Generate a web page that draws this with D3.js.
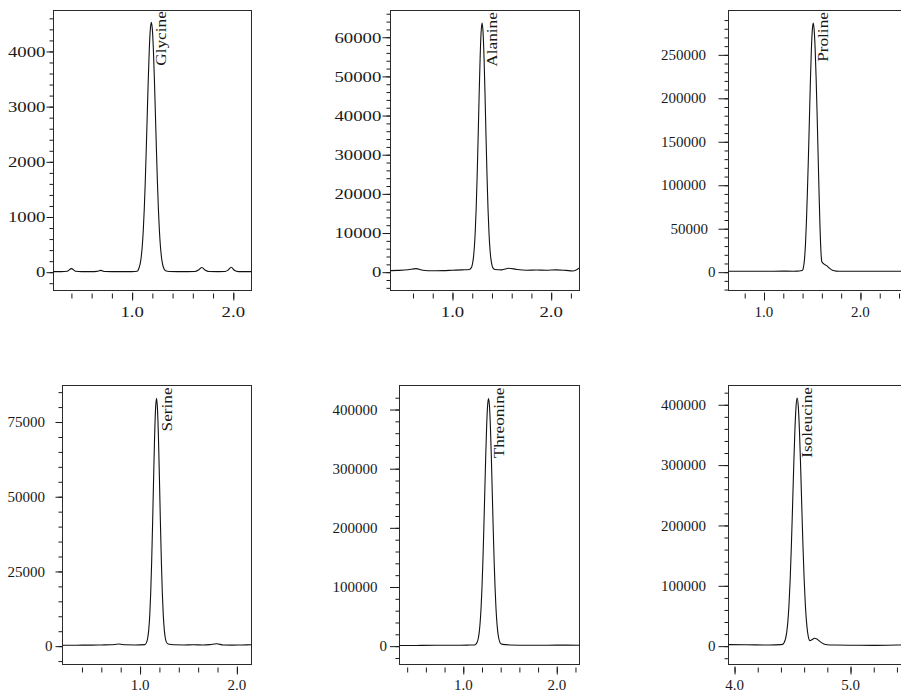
<!DOCTYPE html>
<html><head><meta charset="utf-8">
<script src="https://cdn.jsdelivr.net/npm/d3@7/dist/d3.min.js"></script>
<style>
html,body{margin:0;padding:0;background:#fff;}
svg{display:block;}
</style></head>
<body>
<svg id="chart" width="901" height="694"></svg>
<script>
// ---------- DATA ----------
const compounds = ["Glycine", "Alanine", "Proline", "Serine", "Threonine", "Isoleucine"];

const glycineX = [0.22,0.30,0.36,0.40,0.44,0.50,0.60,0.65,0.69,0.73,0.80,0.90,1.00,1.05,1.07,1.08,1.09,1.10,1.11,1.12,1.13,1.14,1.15,1.16,1.17,1.18,1.19,1.20,1.21,1.22,1.23,1.24,1.25,1.26,1.27,1.28,1.29,1.30,1.31,1.33,1.37,1.45,1.55,1.62,1.66,1.69,1.72,1.76,1.85,1.92,1.95,1.98,2.01,2.05,2.12,2.18];
const glycineY = [10,10,18,65,18,10,10,14,32,12,10,10,10,18,85,155,275,465,745,1135,1640,2235,2880,3510,4045,4400,4530,4400,4045,3510,2880,2235,1640,1135,745,465,275,155,85,25,12,10,10,12,45,85,40,12,10,12,40,90,35,10,10,10];

const alanineX = [0.372,0.45,0.55,0.63,0.70,0.80,0.90,1.00,1.10,1.17,1.19,1.20,1.21,1.22,1.23,1.24,1.25,1.26,1.27,1.28,1.29,1.30,1.31,1.32,1.33,1.34,1.35,1.36,1.37,1.38,1.39,1.40,1.41,1.43,1.50,1.57,1.65,1.75,1.85,1.95,2.05,2.15,2.22,2.287];
const alanineY = [400,450,600,900,500,350,400,500,600,700,1100,1830,3270,5840,10030,16210,24540,34510,45110,54580,61200,63600,61200,54580,45110,34510,24540,16210,10030,5840,3270,1830,1100,700,600,1000,700,500,550,500,600,450,300,1100];

const prolineX = [0.632,0.80,1.00,1.20,1.30,1.35,1.38,1.40,1.41,1.42,1.43,1.44,1.45,1.46,1.47,1.48,1.49,1.50,1.51,1.52,1.53,1.54,1.55,1.56,1.57,1.58,1.59,1.60,1.62,1.65,1.68,1.71,1.75,1.80,1.90,2.00,2.20,2.40,2.602];
const prolineY = [1000,1000,1000,1200,1100,1200,1600,2200,6000,15000,32000,58000,92000,130000,172000,215000,252000,277000,286500,279000,258000,225000,185000,140000,95000,55000,25000,12000,9500,7500,4500,2200,1200,1000,1000,1000,1100,1000,1000];

const serineX = [0.199,0.30,0.40,0.50,0.60,0.70,0.78,0.85,0.95,1.05,1.07,1.08,1.09,1.10,1.11,1.12,1.13,1.14,1.15,1.16,1.17,1.18,1.19,1.20,1.21,1.22,1.23,1.24,1.25,1.26,1.27,1.29,1.35,1.45,1.55,1.65,1.72,1.79,1.86,1.95,2.05,2.151];
const serineY = [300,300,350,350,400,450,700,450,400,500,1500,2900,5600,10300,17800,28400,41650,56300,69800,79400,82900,79400,69800,56300,41650,28400,17800,10300,5600,2900,1500,700,450,400,450,400,500,800,400,350,400,450];

const threonineX = [0.318,0.50,0.70,0.90,1.05,1.10,1.13,1.14,1.15,1.16,1.17,1.18,1.19,1.20,1.21,1.22,1.23,1.24,1.25,1.26,1.27,1.28,1.29,1.30,1.31,1.32,1.33,1.34,1.35,1.36,1.37,1.38,1.39,1.40,1.42,1.50,1.70,1.90,2.10,2.243];
const threonineY = [1000,1200,1500,1500,1800,2000,2500,4200,7250,12900,22800,39000,63600,98700,144500,199600,260500,320500,371800,406400,418500,406400,371800,320500,260500,199600,144500,98700,63600,39000,22800,12900,7250,4200,3000,2000,1500,1500,1800,1500];

const isoleucineX = [3.948,4.10,4.30,4.40,4.42,4.43,4.44,4.45,4.46,4.47,4.48,4.49,4.50,4.51,4.52,4.53,4.54,4.55,4.56,4.57,4.58,4.59,4.60,4.61,4.62,4.63,4.64,4.65,4.67,4.69,4.71,4.74,4.77,4.80,4.85,5.00,5.20,5.40,5.586];
const isoleucineY = [2500,2300,1800,2500,3500,6900,12600,23300,41500,70300,111600,166000,229800,296500,355400,396300,411000,396300,355400,296500,229800,166000,111600,70300,41500,23000,12500,9000,11000,13000,12000,7000,3500,2200,1800,1600,1300,1800,2000];

const seriesX = [glycineX, alanineX, prolineX, serineX, threonineX, isoleucineX];
const seriesY = [glycineY, alanineY, prolineY, serineY, threonineY, isoleucineY];

const xDomains = [[0.223,2.18],[0.372,2.287],[0.632,2.602],[0.199,2.151],[0.318,2.243],[3.948,5.586]];
const yDomains = [[-332,4742],[-4680,66830],[-21080,301000],[-6140,87220],[-31030,440640],[-30410,431900]];
const yMajorStep = [1000, 10000, 50000, 25000, 100000, 100000];
const yMinorStep = [200, 2000, 10000, 5000, 20000, 20000];
const xMinorStep = 0.2;
const xLabelTicks = [[1,2],[1,2],[1,2],[1,2],[1,2],[4,5]];

// ---------- LAYOUT / STYLE ----------
const boxes = [
  [53.5, 10.5, 251.5, 290.5],
  [390.5, 10.5, 579.5, 290.5],
  [728.5, 10.5, 918.5, 290.5],
  [62.5, 385.5, 251.5, 664.5],
  [399.5, 385.5, 579.5, 664.5],
  [728.5, 385.5, 918.5, 664.5]
];
const majorTickLen = [7, 8, 10, 7, 9.5, 10];
const labelStretch = [1.21, 1.21, 1, 1, 1, 1];
const charSlot = 9.4;        // horizontal slot per character of y tick labels
const FONT = "'Liberation Serif', 'Times New Roman', serif";
const ink = "#1a1a1a";

const svg = d3.select("#chart");

function rangeTicks(lo, hi, step) {
  const out = [];
  const start = Math.ceil(lo / step - 1e-9);
  const end = Math.floor(hi / step + 1e-9);
  for (let k = start; k <= end; k++) out.push(+(k * step).toFixed(6));
  return out;
}

compounds.forEach((name, i) => {
  const [x0, y0, x1, y1] = boxes[i];
  const xs = d3.scaleLinear().domain(xDomains[i]).range([x0, x1]);
  const ys = d3.scaleLinear().domain(yDomains[i]).range([y1, y0]);
  const g = svg.append("g");
  const fs = i < 2 ? 15.5 : 15;
  const sx = labelStretch[i];

  // y ticks
  const yMinor = rangeTicks(yDomains[i][0], yDomains[i][1], yMinorStep[i])
    .filter(v => ys(v) > y0 + 2 && ys(v) < y1 - 0.8);
  const yMajor = rangeTicks(0, yDomains[i][1], yMajorStep[i])
    .filter(v => ys(v) > y0 + 2);
  const gyMin = g.append("g").attr("transform", `translate(${x0},0)`)
    .call(d3.axisLeft(ys).tickValues(yMinor).tickSize(4).tickFormat(""));
  const gyMaj = g.append("g").attr("transform", `translate(${x0},0)`)
    .call(d3.axisLeft(ys).tickValues(yMajor).tickSize(majorTickLen[i]).tickFormat(""));
  [gyMin, gyMaj].forEach(a => {
    a.select(".domain").remove();
    a.selectAll("line").attr("stroke", ink);
  });
  const fmtY = d3.format("d");
  g.selectAll(null).data(yMajor).enter().append("text")
    .attr("transform", v => {
      const s = fmtY(v);
      const left = x0 - majorTickLen[i] - 1 - s.length * charSlot;
      return `translate(${left},${ys(v)}) scale(${sx},1)`;
    })
    .attr("dy", "0.34em")
    .attr("font-family", FONT).attr("font-size", fs).attr("fill", ink)
    .text(v => fmtY(v));

  // x ticks (detached below the box)
  const xMinor = rangeTicks(xDomains[i][0], xDomains[i][1], xMinorStep)
    .filter(v => xs(v) > x0 + 3 && xs(v) < Math.min(x1, 901) - 1);
  const gxMin = g.append("g").attr("transform", `translate(0,${y1 + 3})`)
    .call(d3.axisBottom(xs).tickValues(xMinor).tickSize(5).tickFormat(""));
  const gxMaj = g.append("g").attr("transform", `translate(0,${y1 + 2})`)
    .call(d3.axisBottom(xs).tickValues(xLabelTicks[i]).tickSize(8).tickFormat(""));
  [gxMin, gxMaj].forEach(a => {
    a.select(".domain").remove();
    a.selectAll("line").attr("stroke", ink);
  });
  const fmtX = d3.format(".1f");
  const base = y1 + (i < 3 ? 26.5 : 25.5);
  g.selectAll(null).data(xLabelTicks[i]).enter().append("text")
    .attr("transform", v => `translate(${xs(v)},${base}) scale(${sx},1)`)
    .attr("text-anchor", "middle")
    .attr("font-family", FONT).attr("font-size", fs).attr("fill", ink)
    .text(v => fmtX(v));

  // box
  g.append("rect")
    .attr("x", x0).attr("y", y0).attr("width", x1 - x0).attr("height", y1 - y0)
    .attr("fill", "none").attr("stroke", "#2a2a2a").attr("stroke-width", 1);

  // trace
  const pts = seriesX[i].map((x, k) => [x, seriesY[i][k]]);
  const line = d3.line().x(d => xs(d[0])).y(d => ys(d[1])).curve(d3.curveMonotoneX);
  g.append("path").datum(pts)
    .attr("d", line)
    .attr("fill", "none").attr("stroke", "#111").attr("stroke-width", 1.1);

  // peak label
  const top = d3.maxIndex(seriesY[i]);
  const lx = xs(seriesX[i][top]) + 15;
  const ly = ys(seriesY[i][top]) - 11;
  g.append("text")
    .attr("transform", `translate(${lx},${ly}) rotate(-90) scale(1.23,1)`)
    .attr("text-anchor", "end")
    .attr("font-family", FONT).attr("font-size", 14).attr("fill", ink)
    .text(name);
});
</script>
</body></html>
